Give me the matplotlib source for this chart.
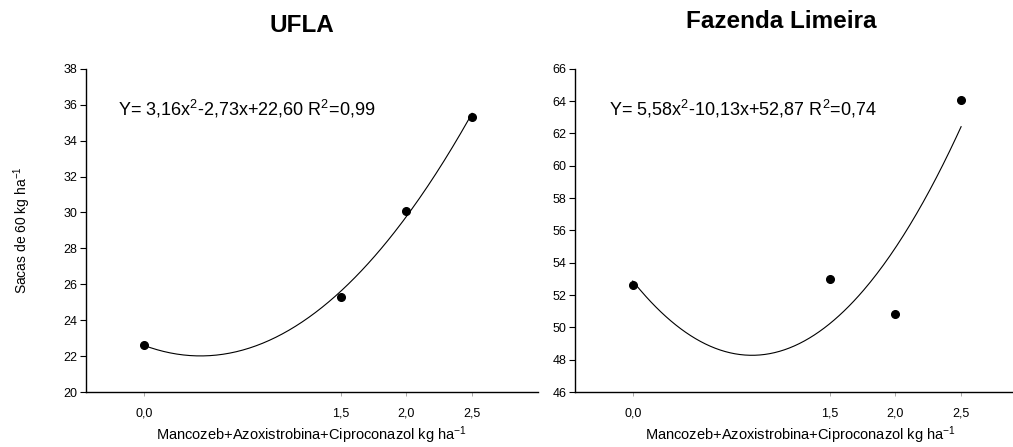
import matplotlib
matplotlib.use("Agg")
import matplotlib.pyplot as plt
import numpy as np

plt.rcParams["font.family"] = ["Liberation Sans", "DejaVu Sans"]
plt.rcParams["mathtext.fontset"] = "custom"
plt.rcParams["mathtext.rm"] = "Liberation Sans"
plt.rcParams["mathtext.it"] = "Liberation Sans"

# doses (kg/ha) and yields (sacas de 60 kg/ha)
doses = [0.0, 1.5, 2.0, 2.5]
ufla_yield = [22.6, 25.3, 30.1, 35.3]
limeira_yield = [52.6, 53.0, 50.8, 64.1]

# fitted quadratic coefficients (a, b, c) as printed on the chart
ufla_coef = [3.16, -2.73, 22.60]
limeira_coef = [5.58, -10.13, 52.87]

ufla_eq = r"Y= 3,16x$^{2}$-2,73x+22,60 R$^{2}$=0,99"
limeira_eq = r"Y= 5,58x$^{2}$-10,13x+52,87 R$^{2}$=0,74"

tick_labels = ["0,0", "1,5", "2,0", "2,5"]
xlabel = r"Mancozeb+Azoxistrobina+Ciproconazol kg ha$^{-1}$"
ylabel = r"Sacas de 60 kg ha$^{-1}$"


def draw_panel(ax, y, coef, eq, ylim, yticks, eq_x):
    xs = np.linspace(min(doses), max(doses), 200)
    ax.plot(xs, np.polyval(coef, xs), color="black", lw=0.8)
    ax.plot(doses, y, "o", color="black", markersize=5.5)
    ax.set_xlim(-0.44, 3.0)
    ax.set_ylim(*ylim)
    ax.set_xticks(doses)
    ax.set_xticklabels(tick_labels)
    ax.set_yticks(yticks)
    ax.tick_params(axis="y", direction="out", length=4, width=0.8, labelsize=9, pad=2)
    ax.tick_params(axis="x", direction="out", length=3, width=0.5, labelsize=9, pad=8,
                   color="#888888")
    for side in ("top", "right"):
        ax.spines[side].set_visible(False)
    for side in ("left", "bottom"):
        ax.spines[side].set_linewidth(1.0)
    ax.set_xlabel(xlabel, fontsize=10.5, labelpad=4)
    ax.text(eq_x, 0.875, eq, transform=ax.transAxes, fontsize=13, va="center")
    return ax


fig = plt.figure(figsize=(10.13, 4.47), dpi=100)
ax1 = fig.add_axes([0.0849, 0.123, 0.446, 0.723])
ax2 = fig.add_axes([0.5676, 0.123, 0.446, 0.723])

draw_panel(ax1, ufla_yield, ufla_coef, ufla_eq, (20, 38), np.arange(20, 39, 2), 0.07)
draw_panel(ax2, limeira_yield, limeira_coef, limeira_eq, (46, 66), np.arange(46, 67, 2), 0.075)

ax1.set_ylabel(ylabel, fontsize=10, labelpad=22)

fig.text(302 / 1013, 1 - 25 / 447, "UFLA", fontsize=17.5, fontweight="bold", ha="center", va="center")
fig.text(781 / 1013, 1 - 22 / 447, "Fazenda Limeira", fontsize=17.5, fontweight="bold", ha="center", va="center")

fig.savefig("out.png", dpi=100)
